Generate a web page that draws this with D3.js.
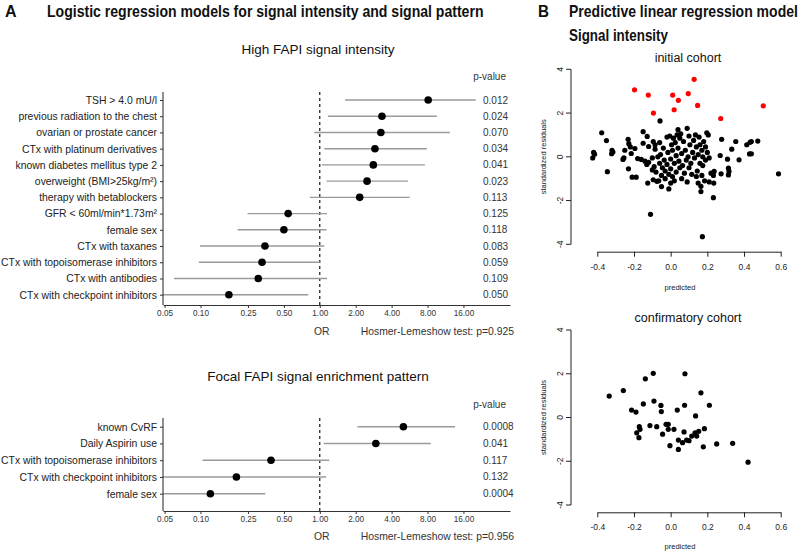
<!DOCTYPE html>
<html><head><meta charset="utf-8">
<script src="https://cdn.jsdelivr.net/npm/d3@7"></script>
<style>body{margin:0;background:#fff} svg{display:block;font-family:"Liberation Sans",Arial,Helvetica,sans-serif}</style>
</head><body><svg id="c" width="800" height="551"></svg>
<script>
// ---------- Data ----------
const highLabels = ["TSH > 4.0 mU/l","previous radiation to the chest","ovarian or prostate cancer","CTx with platinum derivatives","known diabetes mellitus type 2","overweight (BMI>25kg/m²)","therapy with betablockers","GFR < 60ml/min*1.73m²","female sex","CTx with taxanes","CTx with topoisomerase inhibitors","CTx with antibodies","CTx with checkpoint inhibitors"];
const highOR  = [8.1, 3.32, 3.25, 2.9, 2.81, 2.49, 2.16, 0.543, 0.5, 0.347, 0.328, 0.305, 0.173];
const highLo  = [1.63, 1.17, 0.90, 1.09, 1.04, 1.14, 0.825, 0.248, 0.205, 0.099, 0.097, 0.06, 0.03];
const highHi  = [20.3, 9.58, 12.3, 7.9, 7.6, 5.5, 5.66, 1.15, 1.14, 1.09, 1.0, 1.15, 0.80];
const highP   = ["0.012","0.024","0.070","0.034","0.041","0.023","0.113","0.125","0.118","0.083","0.059","0.109","0.050"];

const focalLabels = ["known CvRF","Daily Aspirin use","CTx with topoisomerase inhibitors","CTx with checkpoint inhibitors","female sex"];
const focalOR = [5.02, 2.95, 0.39, 0.2, 0.121];
const focalLo = [2.07, 1.08, 0.104, 0.03, 0.03];
const focalHi = [13.6, 8.5, 1.2, 1.13, 0.35];
const focalP  = ["0.0008","0.041","0.117","0.132","0.0004"];

const orTicks = [0.05, 0.1, 0.25, 0.5, 1, 2, 4, 8, 16];
const orTickLabels = ["0.05","0.10","0.25","0.50","1.00","2.00","4.00","8.00","16.00"];

const predTicks = [-0.4, -0.2, 0, 0.2, 0.4, 0.6];
const residTicks = [-4, -2, 0, 2, 4];

const initialRed = [[-0.197,3.06],[-0.122,2.82],[-0.094,2.0],[0.011,2.82],[0.042,2.58],[0.019,2.15],[0.096,2.89],[0.128,3.54],[0.147,2.35],[0.273,1.75],[0.505,2.33]];
const initialBlack = [
 [-0.42,0.2],[-0.425,-0.05],[-0.415,0.12],[-0.376,1.1],[-0.35,0.74],[-0.345,-0.68],
 [-0.32,0.3],[-0.322,0.14],[-0.315,0.22],[-0.26,-0.12],[-0.255,-0.05],[-0.25,0.3],
 [-0.232,0.8],[-0.228,0.6],[-0.22,0.45],[-0.23,-0.55],[-0.215,0.15],[-0.21,-0.93],[-0.188,-0.93],
 [-0.195,0.38],[-0.18,-0.08],[-0.15,1.15],[-0.128,0.93],[-0.15,0.62],[-0.14,-0.2],[-0.16,-0.12],
 [-0.13,-0.35],[-0.12,-0.25],[-0.12,0.47],[-0.125,-1.2],[-0.11,-2.63],
 [-0.095,0.7],[-0.085,0.35],[-0.1,-0.05],[-0.09,-0.45],[-0.1,-0.6],[-0.08,-0.7],[-0.095,-1.05],[-0.075,-1.12],[-0.085,0.55],
 [-0.058,1.64],[-0.06,0.65],[-0.055,0.1],[-0.06,-0.3],[-0.05,-0.85],[-0.05,-1.36],[-0.065,-1.1],[-0.045,-0.5],[-0.07,0.0],
 [-0.04,0.4],[-0.035,-0.15],[-0.03,-0.65],[-0.03,-1.0],[-0.02,0.9],[-0.02,-0.35],[-0.015,0.2],[-0.01,-1.47],[-0.01,-0.8],
 [-0.005,0.95],[0.0,-0.1],[0.0,-0.55],[0.0,-1.2],[0.005,0.55],[0.01,0.3],[0.01,-0.9],[0.015,0.85],[0.02,-0.3],[0.02,-1.1],
 [0.025,0.65],[0.03,0.05],[0.03,-0.7],[0.035,1.0],[0.04,1.24],[0.04,0.4],[0.045,-0.2],[0.05,0.85],[0.05,-0.5],[0.055,1.05],
 [0.06,0.15],[0.06,-1.0],[0.065,-0.4],[0.07,0.7],[0.075,-0.75],[0.08,0.3],[0.085,-0.15],[0.09,1.3],[0.09,-1.15],[0.095,0.0],
 [0.1,0.95],[0.1,-0.5],[0.105,0.55],[0.11,-0.3],[0.115,-0.8],[0.12,0.2],[0.125,0.75],[0.13,-0.05],[0.135,1.0],[0.14,-0.9],
 [0.14,0.45],[0.145,-0.65],[0.15,0.1],[0.15,-1.2],[0.155,0.9],[0.16,-0.3],[0.16,0.55],[0.165,-1.35],[0.165,-1.59],[0.17,0.3],
 [0.17,-0.85],[0.175,0.0],[0.175,-0.4],[0.18,0.7],[0.185,-1.1],[0.19,0.45],[0.19,-0.15],[0.197,1.1],[0.2,0.2],[0.205,1.0],
 [0.21,-0.05],[0.21,-1.15],[0.173,-3.65],
 [0.233,-1.87],[0.235,-1.2],[0.233,-0.85],[0.237,-0.67],[0.22,-0.75],[0.27,0.06],[0.275,-0.78],[0.278,0.8],
 [0.31,-0.11],[0.315,-0.52],[0.318,-0.67],[0.315,-0.83],[0.333,0.35],[0.355,0.7],[0.373,-0.14],
 [0.415,0.55],[0.433,0.66],[0.44,0.7],[0.43,0.13],[0.44,0.14],[0.475,0.72],[0.588,-0.78]
];
const confirmBlack = [
 [-0.335,0.98],[-0.258,1.23],[-0.213,0.34],[-0.189,0.25],[-0.185,-0.70],[-0.173,-0.92],[-0.171,-0.42],[-0.167,-0.54],
 [-0.149,0.62],[-0.138,1.77],[-0.095,2.02],[-0.091,0.75],[-0.113,-0.37],[-0.076,-0.42],[-0.053,0.55],[-0.051,0.27],
 [-0.044,-0.76],[-0.025,-0.31],[-0.013,-0.31],[-0.013,-0.54],[-0.004,-1.29],[0.018,-0.54],[0.036,0.34],[0.042,-1.03],
 [0.042,-1.46],[0.065,-1.15],[0.078,2.0],[0.076,0.56],[0.073,-0.66],[0.087,-1.03],[0.1,-1.06],[0.115,-0.85],
 [0.133,-0.70],[0.142,-0.85],[0.136,0.07],[0.153,-0.63],[0.165,1.13],[0.178,-1.34],[0.184,-0.51],[0.211,0.56],
 [0.251,-1.21],[0.338,-1.18],[0.422,-2.04]
];

// ---------- Drawing ----------
const svg = d3.select("#c");
const fg = "#333";

// Panel titles (condensed bold look: scaled horizontally to the reference widths)
function condensed(x, y, txt, width) {
  const t = svg.append("text").attr("font-size",16).attr("font-weight","bold").attr("fill","#111").text(txt);
  const w = t.node().getComputedTextLength();
  const s = Math.min(1, width / w);
  t.attr("transform", `translate(${x},${y}) scale(${s},1)`);
}
condensed(5, 17, "A", 12);
condensed(47, 17, "Logistic regression models for signal intensity and signal pattern", 437);
condensed(538, 17, "B", 11);
condensed(569, 17, "Predictive linear regression model", 229);
condensed(569, 41, "Signal intensity", 99);

const xOR = d3.scaleLog().base(2).domain([0.0485, 39.3]).range([163, 510]).clamp(true);

function forest(o) {
  const g = svg.append("g");
  const y = d3.scalePoint().domain(o.labels).range([o.top, o.bottom]);
  g.append("text").attr("x",318).attr("y",o.titleY).attr("text-anchor","middle").attr("font-size",13.5).attr("fill","#111").text(o.title);
  g.append("text").attr("x",506).attr("y",o.pY).attr("text-anchor","end").attr("font-size",10).attr("fill",fg).text("p-value");
  // dashed reference
  g.append("line").attr("x1",xOR(1)).attr("x2",xOR(1)).attr("y1",o.axisTop).attr("y2",o.axisY)
    .attr("stroke","#000").attr("stroke-width",1.1).attr("stroke-dasharray","3,3");
  // CIs
  g.selectAll(".ci").data(o.labels).join("line")
    .attr("x1",(d,i)=>xOR(o.lo[i])).attr("x2",(d,i)=>xOR(o.hi[i]))
    .attr("y1",d=>y(d)).attr("y2",d=>y(d)).attr("stroke","#9a9a9a").attr("stroke-width",1.4);
  g.selectAll(".pt").data(o.labels).join("circle")
    .attr("cx",(d,i)=>xOR(o.or[i])).attr("cy",d=>y(d)).attr("r",3.8).attr("fill","#000");
  // y axis
  const ya = g.append("g").attr("transform",`translate(163,0)`).call(d3.axisLeft(y).tickSize(3).tickSizeOuter(0).tickPadding(3));
  ya.select(".domain").remove();
  ya.selectAll("text").attr("font-size",10.4).attr("fill","#222").attr("font-family",null);
  ya.selectAll("line").attr("stroke","#333");
  g.append("line").attr("x1",163).attr("x2",163).attr("y1",o.axisTop).attr("y2",o.axisY).attr("stroke","#333").attr("stroke-width",1.1);
  // x axis
  const xa = g.append("g").attr("transform",`translate(0,${o.axisY})`)
    .call(d3.axisBottom(xOR).tickValues(orTicks).tickFormat((d,i)=>orTickLabels[i]).tickSize(3).tickSizeOuter(0).tickPadding(2));
  xa.selectAll("text").attr("font-size",8.2).attr("fill","#333").attr("font-family",null);
  xa.select(".domain").attr("stroke","#333").attr("stroke-width",1.1);
  xa.selectAll("line").attr("stroke","#333");
  // p-values
  g.selectAll(".pv").data(o.labels).join("text")
    .attr("x",483).attr("y",d=>y(d)).attr("dy","0.35em").attr("font-size",10).attr("fill",fg)
    .text((d,i)=>o.p[i]);
  g.append("text").attr("x",xOR(1)+2).attr("y",o.orY).attr("text-anchor","middle").attr("font-size",10.4).attr("fill",fg).text("OR");
  g.append("text").attr("x",514).attr("y",o.orY).attr("text-anchor","end").attr("font-size",10.4).attr("fill",fg).text(o.hl);
}

forest({labels:highLabels, or:highOR, lo:highLo, hi:highHi, p:highP, top:100, bottom:294.7, axisTop:92, axisY:305,
  title:"High FAPI signal intensity", titleY:54, pY:80, orY:335, hl:"Hosmer-Lemeshow test: p=0.925"});
forest({labels:focalLabels, or:focalOR, lo:focalLo, hi:focalHi, p:focalP, top:426.7, bottom:493.7, axisTop:418, axisY:511,
  title:"Focal FAPI signal enrichment pattern", titleY:381, pY:408, orY:540, hl:"Hosmer-Lemeshow test: p=0.956"});

// ---------- Scatter plots ----------
const xs = d3.scaleLinear().domain([-0.4, 0.6]).range([597.3, 780.7]);
function scatter(o) {
  const ys = d3.scaleLinear().domain([-4, 4]).range([o.yBottom, o.yTop]);
  const g = svg.append("g");
  g.append("text").attr("x",688).attr("y",o.titleY).attr("text-anchor","middle").attr("font-size",12.5).attr("fill","#111").text(o.title);
  // y axis
  g.append("line").attr("x1",571).attr("x2",571).attr("y1",ys(-4)).attr("y2",ys(4)).attr("stroke","#222");
  g.selectAll(".yt").data(residTicks).join("line").attr("x1",566).attr("x2",571).attr("y1",d=>ys(d)).attr("y2",d=>ys(d)).attr("stroke","#222");
  g.selectAll(".yl").data(residTicks).join("text")
    .attr("transform",d=>`translate(563,${ys(d)}) rotate(-90)`).attr("text-anchor","middle")
    .attr("font-size",8.5).attr("fill","#222").text(d=>String(d));
  g.append("text").attr("transform",`translate(546,${ys(0)}) rotate(-90)`).attr("text-anchor","middle")
    .attr("font-size",7.5).attr("fill","#222").text("standardized residuals");
  // x axis
  const xa = g.append("g").attr("transform",`translate(0,${o.xAxisY})`)
    .call(d3.axisBottom(xs).tickValues(predTicks).tickFormat(d=>d.toFixed(1)).tickSize(5).tickSizeOuter(0).tickPadding(7));
  xa.selectAll("text").attr("font-size",8.5).attr("fill","#222").attr("font-family",null);
  xa.selectAll("line,path").attr("stroke","#222");
  g.append("text").attr("x",680).attr("y",o.predY).attr("text-anchor","middle").attr("font-size",7.5).attr("fill","#222").text("predicted");
  g.selectAll(".b").data(o.black).join("circle").attr("cx",d=>xs(d[0])).attr("cy",d=>ys(d[1])).attr("r",2.6).attr("fill","#000");
  g.selectAll(".r").data(o.red).join("circle").attr("cx",d=>xs(d[0])).attr("cy",d=>ys(d[1])).attr("r",2.6).attr("fill","#ff0000");
}
scatter({title:"initial cohort", titleY:62, yTop:69.3, yBottom:244.3, xAxisY:251.7, predY:290, black:initialBlack, red:initialRed});
scatter({title:"confirmatory cohort", titleY:322, yTop:330, yBottom:505, xAxisY:512.3, predY:549, black:confirmBlack, red:[]});
</script></body></html>
